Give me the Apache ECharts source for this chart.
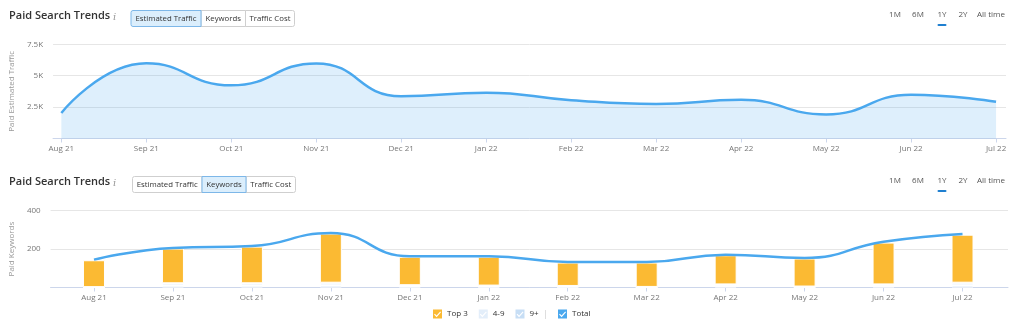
<!DOCTYPE html>
<html>
<head>
<meta charset="utf-8">
<script src="https://cdn.jsdelivr.net/npm/echarts@6/dist/echarts.min.js"></script>
<style>
  html, body { margin: 0; padding: 0; background: #fff; }
  #chart { width: 1024px; height: 328px; }
</style>
</head>
<body>
<div id="chart"></div>
<script>
// Month categories shared by both panels
const months = ['Aug 21', 'Sep 21', 'Oct 21', 'Nov 21', 'Dec 21', 'Jan 22',
                'Feb 22', 'Mar 22', 'Apr 22', 'May 22', 'Jun 22', 'Jul 22'];

// Paid estimated traffic per month
const trafficValues = [2030, 5990, 4230, 5980, 3370, 3650, 3050, 2750, 3080, 1920, 3480, 2920];

// Paid keywords by position bucket
const top3Values = [140, 181, 191, 256, 148, 150, 122, 127, 152, 146, 218, 250];
const pos4to9Values = [1, 12, 12, 14, 6, 5, 4, 2, 9, 3, 9, 14];
const pos9plusValues = [1, 10, 10, 11, 6, 5, 4, 1, 7, 2, 7, 11];
const totalValues = [145, 206, 216, 284, 163, 163, 133, 133, 171, 154, 238, 279];

// Axis tick values
const trafficTicks = [0, 2500, 5000, 7500];
const keywordTicks = [0, 200, 400];

const periodLabels = ['1M', '6M', '1Y', '2Y', 'All time'];
const metricTabs = ['Estimated Traffic', 'Keywords', 'Traffic Cost'];

const BLUE = '#4aa8ee';
const ORANGE = '#fbba33';
const LIGHT1 = '#e3eefa';
const LIGHT2 = '#c7def5';
const GRID = '#e6e6e6';
const AXIS = '#ccd6eb';
const LABEL = '#777';
const FONT = '"Open Sans", "Noto Sans", sans-serif';

const monthIdx = months.map((_, i) => i);
const pairs = arr => arr.map((v, i) => [i, v]);

// Square checkbox with a check mark cut out of it
const checkIcon = 'path://M0,0H10V10H0Z M1.2,5.6L4,8.6L8.9,3.1L8,2.2L4,6.8L2.1,4.7Z';

function header(y, activeIdx, tabX) {
  const els = [];
  els.push({
    type: 'text', left: 9, top: y - 8,
    style: { text: 'Paid Search Trends', font: '600 11px ' + FONT, fill: '#333' }
  });
  els.push({
    type: 'text', left: 113, top: y - 6,
    style: { text: 'i', font: 'italic 10px "DejaVu Serif", serif', fill: '#999' }
  });
  // segmented metric switch
  for (let i = 0; i < metricTabs.length; i++) {
    const x0 = tabX[i], x1 = tabX[i + 1];
    const active = i === activeIdx;
    els.push({
      type: 'rect', shape: { x: x0 + 0.5, y: y - 8 + 0.5, width: x1 - x0, height: 16,
        r: i === 0 ? [2, 0, 0, 2] : (i === metricTabs.length - 1 ? [0, 2, 2, 0] : 0) },
      style: { fill: active ? '#dbeefc' : '#fff', stroke: active ? '#7db7e8' : '#cfcfcf', lineWidth: 1 },
      z: active ? 11 : 10
    });
    els.push({
      type: 'text', x: (x0 + x1) / 2 + 0.5, y: y + 0.5, z: 12,
      style: { text: metricTabs[i], font: '7.8px ' + FONT, fill: '#333', align: 'center', verticalAlign: 'middle' }
    });
  }
  // period selector
  const px = [895, 918, 942, 963, 991];
  periodLabels.forEach((t, i) => {
    els.push({
      type: 'text', x: px[i], y: y - 3,
      style: { text: t, font: '8px ' + FONT, fill: '#555', align: 'center', verticalAlign: 'middle' }
    });
  });
  els.push({ type: 'rect', shape: { x: 937.5, y: y + 6, width: 9, height: 2, r: 1 }, style: { fill: '#1f7fd0' } });
  return els;
}

const chart = echarts.init(document.getElementById('chart'), null, { renderer: 'canvas' });

const kwTop = 210.7, kwBottom = 40.5;

const option = {
  animation: false,
  textStyle: { fontFamily: FONT },
  grid: [
    // traffic panel
    { left: 51.7, right: 18, top: 44.3, bottom: 189.5 },
    // keywords panel: frame with gridlines
    { left: 50, right: 16, top: kwTop, bottom: kwBottom },
    // keywords panel: month bands
    { left: 54.5, right: 22, top: kwTop, bottom: kwBottom }
  ],
  xAxis: [
    {
      gridIndex: 0, type: 'value', min: -0.0975, max: 11.117,
      axisLine: { show: true, lineStyle: { color: AXIS } },
      axisTick: { show: true, customValues: monthIdx, length: 4, lineStyle: { color: AXIS } },
      axisLabel: { customValues: monthIdx, formatter: v => months[Math.round(v)], color: LABEL, fontSize: 8, margin: 6 },
      splitLine: { show: false }
    },
    {
      gridIndex: 1, type: 'value', min: 0, max: 1,
      axisLine: { show: true, lineStyle: { color: AXIS } },
      axisTick: { show: false }, axisLabel: { show: false }, splitLine: { show: false }
    },
    {
      gridIndex: 2, type: 'category', data: months, boundaryGap: true,
      axisLine: { show: false },
      axisTick: { show: true, alignWithLabel: true, length: 4, lineStyle: { color: AXIS } },
      axisLabel: { color: LABEL, fontSize: 8, margin: 6 },
      splitLine: { show: false }
    }
  ],
  yAxis: [
    {
      gridIndex: 0, type: 'value', min: trafficTicks[0], max: trafficTicks[trafficTicks.length - 1],
      interval: trafficTicks[1] - trafficTicks[0],
      axisLine: { show: false }, axisTick: { show: false },
      axisLabel: { formatter: v => v === 0 ? '' : (v / 1000) + 'K', color: LABEL, fontSize: 8, margin: 10 },
      splitLine: { lineStyle: { color: GRID } },
      name: 'Paid Estimated Traffic', nameLocation: 'middle', nameGap: 27, nameRotate: 90,
      nameTextStyle: { color: '#999', fontSize: 8 }
    },
    {
      gridIndex: 1, type: 'value', min: keywordTicks[0], max: keywordTicks[keywordTicks.length - 1],
      interval: keywordTicks[1] - keywordTicks[0],
      axisLine: { show: false }, axisTick: { show: false },
      axisLabel: { formatter: v => v === 0 ? '' : String(v), color: LABEL, fontSize: 8, margin: 10 },
      splitLine: { lineStyle: { color: GRID } },
      name: 'Paid Keywords', nameLocation: 'middle', nameGap: 25, nameRotate: 90,
      nameTextStyle: { color: '#999', fontSize: 8 }
    },
    {
      gridIndex: 2, type: 'value', min: keywordTicks[0], max: keywordTicks[keywordTicks.length - 1],
      show: false
    }
  ],
  legend: [
    {
      data: [
        { name: 'Top 3', icon: checkIcon },
        { name: '4-9', icon: checkIcon },
        { name: '9+', icon: checkIcon }
      ],
      left: 433, top: 309.5, padding: 0, itemWidth: 9, itemHeight: 9, itemGap: 11,
      itemStyle: { borderWidth: 0 },
      textStyle: { fontSize: 8, color: '#333' },
      selectedMode: false
    },
    {
      data: [{ name: 'Total', icon: checkIcon }],
      left: 558, top: 309.5, padding: 0, itemWidth: 9, itemHeight: 9,
      itemStyle: { borderWidth: 0 },
      textStyle: { fontSize: 8, color: '#333' },
      selectedMode: false
    }
  ],
  graphic: [
    ...header(18, 0, [130.5, 200.5, 245, 294]),
    ...header(184, 1, [132, 201.5, 245.5, 295]),
    { type: 'text', x: 545.5, y: 314, style: { text: '|', font: '9px ' + FONT, fill: '#ccc', align: 'center', verticalAlign: 'middle' } }
  ],
  series: [
    {
      name: 'Estimated Traffic', type: 'line', xAxisIndex: 0, yAxisIndex: 0,
      data: pairs(trafficValues), smooth: 0.5, showSymbol: false,
      lineStyle: { color: BLUE, width: 2.5 },
      itemStyle: { color: BLUE },
      areaStyle: { color: 'rgba(74,168,238,0.26)' }
    },
    {
      name: '9+', type: 'bar', xAxisIndex: 2, yAxisIndex: 2, stack: 'kw', barWidth: 22,
      data: pos9plusValues, itemStyle: { color: LIGHT2, borderColor: '#fff', borderWidth: 1 }
    },
    {
      name: '4-9', type: 'bar', xAxisIndex: 2, yAxisIndex: 2, stack: 'kw', barWidth: 22,
      data: pos4to9Values, itemStyle: { color: LIGHT1, borderColor: '#fff', borderWidth: 1 }
    },
    {
      name: 'Top 3', type: 'bar', xAxisIndex: 2, yAxisIndex: 2, stack: 'kw', barWidth: 22,
      data: top3Values, itemStyle: { color: ORANGE, borderColor: '#fff', borderWidth: 1 }
    },
    {
      name: 'Total', type: 'line', xAxisIndex: 2, yAxisIndex: 2, z: 5,
      data: totalValues, smooth: 0.5, showSymbol: false,
      lineStyle: { color: BLUE, width: 2.5 },
      itemStyle: { color: BLUE }
    }
  ]
};

chart.setOption(option);
</script>
</body>
</html>
